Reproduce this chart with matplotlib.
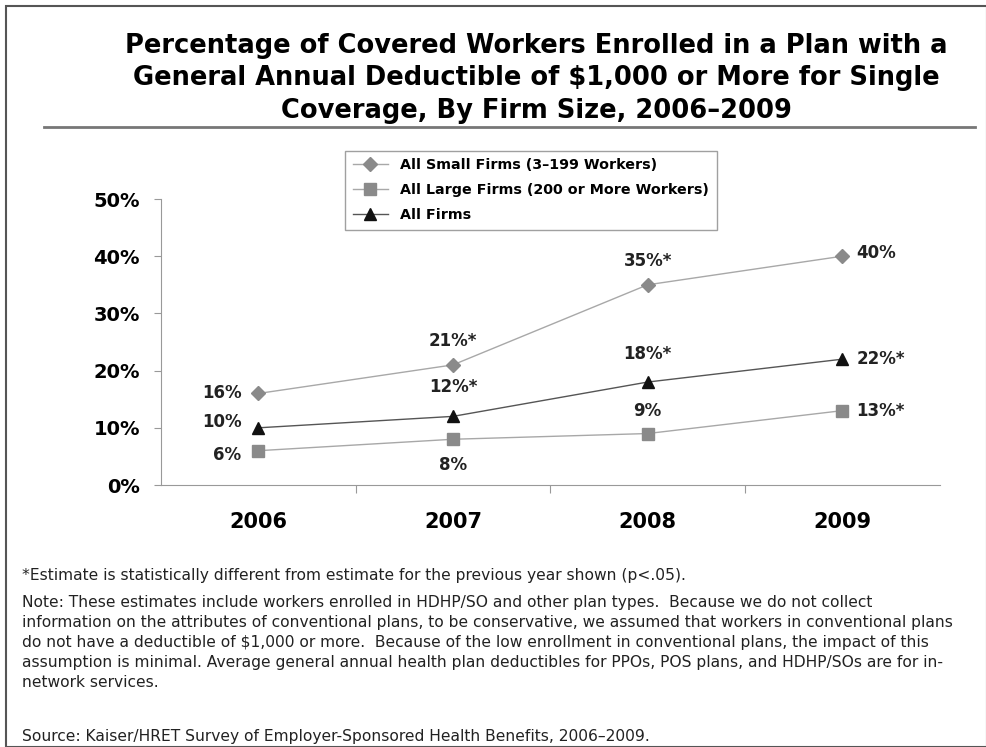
import matplotlib.pyplot as plt
from matplotlib.patches import Rectangle
from matplotlib.lines import Line2D

years = ['2006', '2007', '2008', '2009']
small_firms = [16, 21, 35, 40]
large_firms = [6, 8, 9, 13]
all_firms = [10, 12, 18, 22]
small_labels = ['16%', '21%*', '35%*', '40%']
large_labels = ['6%', '8%', '9%', '13%*']
all_labels = ['10%', '12%*', '18%*', '22%*']
yticks = [0, 10, 20, 30, 40, 50]

fig = plt.figure(figsize=(9.87, 7.47), dpi=100)
ax = fig.add_axes([0.163, 0.3507, 0.789, 0.3829])

x = range(len(years))
ax.plot(x, small_firms, color='#a8a8a8', lw=1.0, marker='D', ms=7,
        mfc='#8a8a8a', mec='#8a8a8a', label='All Small Firms (3\u2013199 Workers)')
ax.plot(x, large_firms, color='#a8a8a8', lw=1.0, marker='s', ms=8,
        mfc='#8a8a8a', mec='#8a8a8a', label='All Large Firms (200 or More Workers)')
ax.plot(x, all_firms, color='#555555', lw=1.0, marker='^', ms=9,
        mfc='#111111', mec='#111111', label='All Firms')

ax.set_xlim(-0.5, 3.5)
ax.set_ylim(0, 50)
ax.set_yticks(yticks)
ax.set_yticklabels([f'{t}%' for t in yticks], fontsize=14, fontweight='bold')
ax.set_xticks([0.5, 1.5, 2.5])
ax.set_xticklabels([])
ax.tick_params(axis='x', direction='out', length=6, color='#999999')
ax.tick_params(axis='y', direction='out', length=5, color='#999999', pad=10)
for i, yr in enumerate(years):
    ax.text(i, -6.5, yr, ha='center', va='center', fontsize=15, fontweight='bold')
for side in ['top', 'right']:
    ax.spines[side].set_visible(False)
for side in ['left', 'bottom']:
    ax.spines[side].set_color('#999999')

# value labels: (dx, dy) in points, alignment
lab_kw = dict(textcoords='offset points', fontsize=12, fontweight='bold', color='#222222')
small_off = [(-12, 0, 'right', 'center'), (0, 11, 'center', 'bottom'),
             (0, 11, 'center', 'bottom'), (10, 2, 'left', 'center')]
large_off = [(-12, -3, 'right', 'center'), (0, -12, 'center', 'top'),
             (0, 10, 'center', 'bottom'), (10, 0, 'left', 'center')]
all_off = [(-12, 4, 'right', 'center'), (0, 15, 'center', 'bottom'),
           (0, 14, 'center', 'bottom'), (10, 0, 'left', 'center')]
for vals, labs, offs in [(small_firms, small_labels, small_off),
                         (large_firms, large_labels, large_off),
                         (all_firms, all_labels, all_off)]:
    for i, (v, s, o) in enumerate(zip(vals, labs, offs)):
        ax.annotate(s, (i, v), xytext=(o[0], o[1]), ha=o[2], va=o[3], **lab_kw)

leg = fig.legend(loc='upper left', bbox_to_anchor=(0.342, 0.808),
                 prop={'weight': 'bold', 'size': 10.3}, frameon=True, fancybox=False,
                 edgecolor='#888888', handlelength=2.5, borderpad=0.55, labelspacing=0.75)
leg.get_frame().set_linewidth(1.0)

fig.text(0.543, 0.956, 'Percentage of Covered Workers Enrolled in a Plan with a\n'
         'General Annual Deductible of $1,000 or More for Single\n'
         'Coverage, By Firm Size, 2006\u20132009',
         ha='center', va='top', fontsize=18.5, fontweight='bold', linespacing=1.32)
fig.add_artist(Line2D([0.045, 0.988], [0.83, 0.83], color='#777777', lw=2.0))
fig.add_artist(Rectangle((0.006, 0.0), 0.994, 0.992, fill=False, ec='#555555', lw=1.5,
                         transform=fig.transFigure))

foot_kw = dict(fontsize=11.2, color='#222222', ha='left')
fig.text(0.022, 0.229, '*Estimate is statistically different from estimate for the previous '
         'year shown (p<.05).', va='center', **foot_kw)
fig.text(0.022, 0.203,
         'Note: These estimates include workers enrolled in HDHP/SO and other plan types.  '
         'Because we do not collect\n'
         'information on the attributes of conventional plans, to be conservative, we assumed '
         'that workers in conventional plans\n'
         'do not have a deductible of $1,000 or more.  Because of the low enrollment in '
         'conventional plans, the impact of this\n'
         'assumption is minimal. Average general annual health plan deductibles for PPOs, '
         'POS plans, and HDHP/SOs are for in-\n'
         'network services.', va='top', linespacing=1.4, **foot_kw)
fig.text(0.022, 0.014, 'Source: Kaiser/HRET Survey of Employer-Sponsored Health Benefits, '
         '2006\u20132009.', va='center', **foot_kw)

fig.savefig('out.png', dpi=100)
